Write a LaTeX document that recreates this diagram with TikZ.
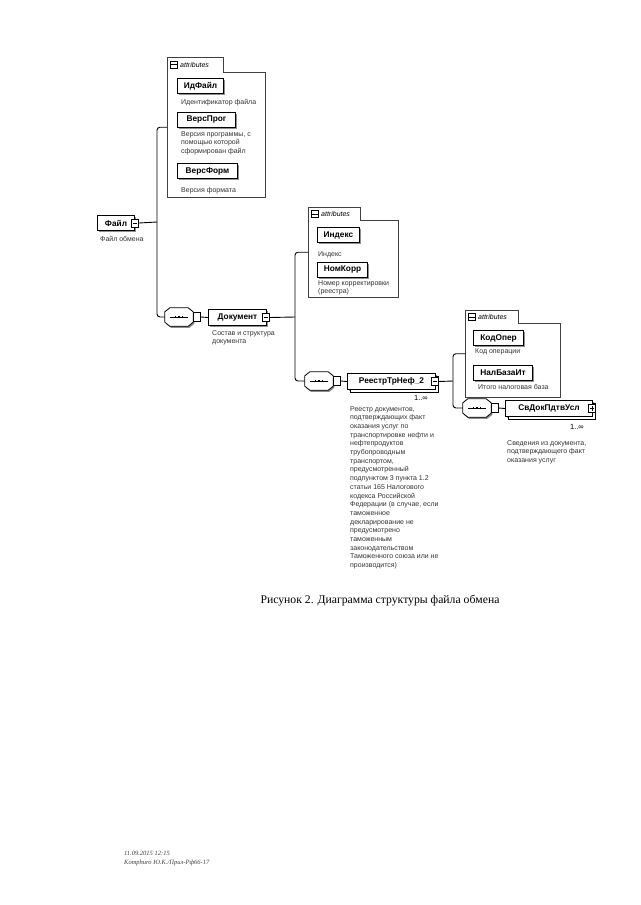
\documentclass[tikz,border=0pt]{standalone}
\usepackage{fontspec}
\setmainfont{Liberation Serif}
\setsansfont{Liberation Sans}
\usetikzlibrary{shadows,calc}
\newcommand{\octpath}[3]{($(#1.north west)+(#2,#3+4)$) -- ($(#1.north west)+(#2+5,#3)$) -- ($(#1.north east)+(#2-5,#3)$) -- ($(#1.north east)+(#2,#3+4)$) -- ($(#1.south east)+(#2,#3-4)$) -- ($(#1.south east)+(#2-5,#3)$) -- ($(#1.south west)+(#2+5,#3)$) -- ($(#1.south west)+(#2,#3-4)$) -- cycle}
\newcommand{\seqoct}[1]{%
  \fill[black!45] \octpath{#1}{1.2}{1.6};
  \draw[line width=0.8pt, fill=white] \octpath{#1}{0}{0};
  \draw[line width=0.7pt] ([xshift=-9pt]#1.center) -- ([xshift=9pt]#1.center);
  \foreach \dx in {-3.5,0,3.5} \fill ([xshift=\dx pt]#1.center) +(-0.9,-0.9) rectangle +(0.9,0.9);
}
\begin{document}
\begin{tikzpicture}[x=1pt,y=-1pt,
  conn/.style={line width=0.9pt, rounded corners=3pt},
  elem/.style={draw, line width=1pt, fill=white,
    font=\sffamily\bfseries\fontsize{8.3}{10}\selectfont,
    minimum height=15pt, inner sep=0pt, anchor=north west,
    drop shadow={shadow xshift=1.2pt, shadow yshift=-1.6pt, fill=black!55, opacity=0.8}},
  multi/.style={copy shadow={shadow xshift=2.5pt, shadow yshift=-2.5pt, draw=black, line width=0.7pt, fill=white}},
  btn/.style={draw, line width=0.6pt, fill=white, minimum width=7pt, minimum height=8pt, inner sep=0pt},
  seqnode/.style={minimum width=28pt, minimum height=18pt, inner sep=0pt},
  seqbtn/.style={draw, line width=0.6pt, fill=white, minimum width=7pt, minimum height=9pt, inner sep=0pt, anchor=west},
  attrbox/.style={minimum width=#1, inner sep=0pt, anchor=north west},
  frame/.style={line width=0.6pt, black!75},
  tabtext/.style={font=\sffamily\itshape\fontsize{7}{8}\selectfont, anchor=west, inner sep=0pt},
  desc/.style={font=\sffamily\fontsize{7}{8.7}\selectfont, align=left, anchor=north west, inner sep=0pt, text=black!80},
  mult/.style={font=\sffamily\fontsize{7.5}{8}\selectfont, anchor=north east, inner sep=0pt}
]
\useasboundingbox (0,0) rectangle (640,905);
\fill[white] (0,0) rectangle (640,905);

% ---------- attribute box 1 ----------
\node[attrbox=98pt, minimum height=140pt] (a1) at (167,57) {};
\draw[frame] (a1.north west) -- (223,57) -- (223,72) -- (265,72) -- (265,197) -- (167,197) -- cycle;
\node[btn, minimum width=7pt, minimum height=7pt] (a1b) at (174,64.5) {};
\draw[line width=0.6pt] (a1b.west) -- (a1b.east);
\node[tabtext] (a1t) at (180,64.5) {attributes};

\node[elem, minimum width=46pt] (idf) at (177,78) {ИдФайл};
\node[desc] (idfd) at (181,99) {Идентификатор файла};
\node[elem, minimum width=58pt] (vprog) at (177,112) {ВерсПрог};
\node[desc] (vprogd) at (181,131) {Версия программы, с\\помощью которой\\сформирован файл};
\node[elem, minimum width=60pt] (vform) at (177,163) {ВерсФорм};
\node[desc] (vformd) at (181,187) {Версия формата};

% ---------- Файл ----------
\node[elem, minimum width=37pt] (file) at (97,215) {Файл\hspace{6pt}};
\node[btn] (fileb) at (file.east) {};
\draw[line width=0.6pt] ([xshift=-2.3pt]fileb.center) -- ([xshift=2.3pt]fileb.center);
\node[desc] (filed) at (100,236) {Файл обмена};

\coordinate (j1) at (157,222);
\node[seqnode] (seq1) at (179,317) {};
\seqoct{seq1}
\node[seqbtn] (seq1b) at (seq1.east) {};

\draw[conn] (fileb.east) -- (j1);
\draw[conn] (a1.west) -| (j1) |- (seq1.west);

% ---------- Документ ----------
\node[elem, minimum width=58pt, minimum height=16pt] (doc) at (208,309) {Документ\hspace{8pt}};
\node[btn] (docb) at ([xshift=-1pt]doc.east) {};
\draw[line width=0.6pt] ([xshift=-2.3pt]docb.center) -- ([xshift=2.3pt]docb.center);
\node[desc] (docd) at (212,330) {Состав и структура\\документа};
\draw[conn] (seq1b.east) -- (doc.west);

% ---------- attribute box 2 ----------
\node[attrbox=90pt, minimum height=90pt] (a2) at (308,207) {};
\draw[frame] (a2.north west) -- (360,207) -- (360,220) -- (398,220) -- (398,297) -- (308,297) -- cycle;
\node[btn, minimum width=7pt, minimum height=7pt] (a2b) at (315,214) {};
\draw[line width=0.6pt] (a2b.west) -- (a2b.east);
\node[tabtext] (a2t) at (321,214) {attributes};

\node[elem, minimum width=42pt] (idx) at (317,227) {Индекс};
\node[desc] (idxd) at (318,251) {Индекс};
\node[elem, minimum width=50pt] (nkorr) at (317,262) {НомКорр};
\node[desc] (nkorrd) at (318,280) {Номер корректировки\\(реестра)};

\coordinate (j2) at (295,317);
\node[seqnode] (seq2) at (319,381) {};
\seqoct{seq2}
\node[seqbtn] (seq2b) at (seq2.east) {};

\draw[conn] (docb.east) -- (j2);
\draw[conn] (a2.west) -| (j2) |- (seq2.west);

% ---------- РеестрТрНеф_2 ----------
\node[elem, multi, minimum width=88pt, minimum height=16pt] (reestr) at (347,373) {РеестрТрНеф\_2\hspace{8pt}};
\node[btn] (reestrb) at ([xshift=-1pt]reestr.east) {};
\draw[line width=0.6pt] ([xshift=-2.3pt]reestrb.center) -- ([xshift=2.3pt]reestrb.center);
\node[mult] (reestrm) at (428,395) {1..∞};
\node[desc] (reestrd) at (350,406) {Реестр документов,\\подтверждающих факт\\оказания услуг по\\транспортировке нефти и\\нефтепродуктов\\трубопроводным\\транспортом,\\предусмотренный\\подпунктом 3 пункта 1.2\\статьи 165 Налогового\\кодекса Российской\\Федерации (в случае, если\\таможенное\\декларирование не\\предусмотрено\\таможенным\\законодательством\\Таможенного союза или не\\производится)};
\draw[conn] (seq2b.east) -- (reestr.west);

% ---------- attribute box 3 ----------
\node[attrbox=95pt, minimum height=87pt] (a3) at (465,310) {};
\draw[frame] (a3.north west) -- (518,310) -- (518,323) -- (560,323) -- (560,397) -- (465,397) -- cycle;
\node[btn, minimum width=7pt, minimum height=7pt] (a3b) at (472,317) {};
\draw[line width=0.6pt] (a3b.west) -- (a3b.east);
\node[tabtext] (a3t) at (478,317) {attributes};

\node[elem, minimum width=50pt] (kodop) at (473,330) {КодОпер};
\node[desc] (kodopd) at (475,348) {Код операции};
\node[elem, minimum width=59pt] (nalb) at (473,365) {НалБазаИт};
\node[desc] (nalbd) at (478,384) {Итого налоговая база};

\coordinate (j3) at (453,381);
\node[seqnode] (seq3) at (477,408) {};
\seqoct{seq3}
\node[seqbtn] (seq3b) at (seq3.east) {};

\draw[conn] (reestrb.east) -- (j3);
\draw[conn] (a3.west) -| (j3) |- (seq3.west);

% ---------- СвДокПдтвУсл ----------
\node[elem, multi, minimum width=87pt, minimum height=16pt] (svdok) at (505,400) {СвДокПдтвУсл\hspace{8pt}};
\node[btn] (svdokb) at ([xshift=-1pt]svdok.east) {};
\draw[line width=0.6pt] ([xshift=-2.3pt]svdokb.center) -- ([xshift=2.3pt]svdokb.center);
\draw[line width=0.6pt] ([yshift=-2.5pt]svdokb.center) -- ([yshift=2.5pt]svdokb.center);
\node[mult] (svdokm) at (584,424) {1..∞};
\node[desc] (svdokd) at (507,440) {Сведения из документа,\\подтверждающего факт\\оказания услуг};
\draw[conn] (seq3b.east) -- (svdok.west);

% ---------- caption & footer ----------
\node[font=\fontsize{11.7}{14}\selectfont, inner sep=0pt] (cap) at (380,601) {Рисунок 2. Диаграмма структуры файла обмена};
\node[anchor=north west, align=left, inner sep=0pt, font=\itshape\fontsize{6.5}{8.5}\selectfont, text=black!75] (foot) at (124,851) {11.09.2015 12:15\\Кomphuro Ю.К./Прил-Рф66-17};
\end{tikzpicture}
\end{document}
